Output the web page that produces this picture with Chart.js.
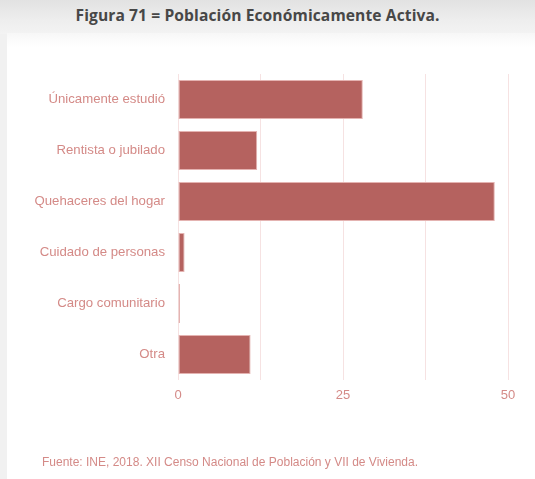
<!DOCTYPE html>
<html>
<head>
<meta charset="utf-8">
<script src="https://cdn.jsdelivr.net/npm/chart.js@4.4.0/dist/chart.umd.min.js"></script>
<style>
  html, body { margin: 0; padding: 0; }
  body {
    width: 535px; height: 479px; position: relative; overflow: hidden;
    background: #f1f1f1;
  }
  .band {
    position: absolute; left: 0; top: 0; width: 535px; height: 34px;
    background: linear-gradient(to bottom, #e2e2e2 0%, #eeeeee 60%, #f3f3f3 100%);
  }
  .card {
    position: absolute; left: 7px; top: 33px; width: 528px; height: 446px;
    background: linear-gradient(to bottom, #f7f7f7 0px, #ffffff 14px);
  }
  h1 {
    position: absolute; left: 0; top: 4px; width: 515px; margin: 0;
    text-align: center; font: bold 15.6px "Open Sans", sans-serif; color: #474747;
    letter-spacing: 0.1px;
  }
  #wrap { position: absolute; left: 0; top: 0; width: 535px; height: 479px; }
  .src {
    position: absolute; left: 42px; top: 455px; margin: 0;
    font: 12px "Liberation Sans", Arial, sans-serif; color: #d48a87;
  }
</style>
</head>
<body>
<div class="band"></div>
<div class="card"></div>
<h1>Figura 71 = Población Económicamente Activa.</h1>
<div id="wrap"><canvas id="c" width="535" height="479"></canvas></div>
<p class="src">Fuente: INE, 2018. XII Censo Nacional de Población y VII de Vivienda.</p>
<script>
const categories = [
  "Únicamente estudió",
  "Rentista o jubilado",
  "Quehaceres del hogar",
  "Cuidado de personas",
  "Cargo comunitario",
  "Otra"
];
const values = [28, 12, 48, 1, 0.3, 11];
const axisMax = 50;
const axisStep = 12.5;

const pink = "#d48a87";

new Chart(document.getElementById("c"), {
  type: "bar",
  data: {
    labels: categories,
    datasets: [{
      data: values,
      backgroundColor: "#b5625f",
      borderColor: "#e4b3b1",
      borderWidth: 1,
      borderSkipped: false,
      barPercentage: 0.95,
      categoryPercentage: 0.8
    }]
  },
  options: {
    indexAxis: "y",
    responsive: false,
    animation: false,
    layout: { padding: { top: 74, right: 27, bottom: 69, left: 0 } },
    plugins: { legend: { display: false }, tooltip: { enabled: false } },
    scales: {
      x: {
        min: 0, max: axisMax,
        grid: { color: "#f6e2e2", drawTicks: false, lineWidth: 1 },
        border: { display: false },
        ticks: {
          stepSize: axisStep,
          padding: 8,
          color: pink,
          font: { family: "'Liberation Sans', Arial, sans-serif", size: 13 },
          callback: v => (v % 25 === 0 ? v : "")
        },
        afterFit: s => { s.height = 30; }
      },
      y: {
        grid: { display: false, drawTicks: false },
        border: { display: false },
        ticks: {
          padding: 13,
          color: pink,
          font: { family: "'Liberation Sans', Arial, sans-serif", size: 13.2 }
        },
        afterFit: s => { s.width = 178; }
      }
    }
  }
});
</script>
</body>
</html>
